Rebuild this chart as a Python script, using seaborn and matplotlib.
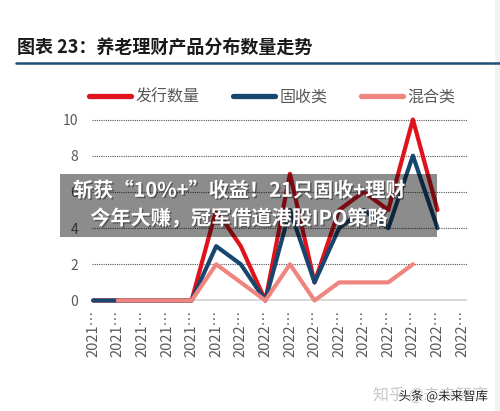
import numpy as np
import pandas as pd
import matplotlib
matplotlib.use("Agg")
import matplotlib.pyplot as plt
from matplotlib.patches import Rectangle
from matplotlib.lines import Line2D
import matplotlib.patheffects as pe
import seaborn as sns

# Data
periods = ["2021…"] * 6 + ["2022…"] * 10
issued = [0, 0, 0, 0, 0, 5, 3, 0, 7, 1, 5, 6, 5, 10, 5, np.nan]
fixed_income = [0, 0, 0, 0, 0, 3, 2, 0, 5, 1, 4, 5, 4, 8, 4, np.nan]
mixed = [np.nan, 0, 0, 0, 0, 2, 1, 0, 2, 0, 1, 1, 1, 2, np.nan, np.nan]
series_names = ["发行数量", "固收类", "混合类"]
colors = ["#e0121c", "#17476f", "#f0857f"]

sns.set_style("white")
plt.rcParams["font.family"] = ["Noto Sans CJK SC", "DejaVu Sans"]

df = pd.DataFrame({
    "pos": np.arange(len(periods)),
    series_names[0]: issued,
    series_names[1]: fixed_income,
    series_names[2]: mixed,
})
long_df = df.melt(id_vars="pos", var_name="series", value_name="count").dropna()

fig = plt.figure(figsize=(5.0, 4.11), dpi=100)
ax = fig.add_axes([0.184, 0.2601, 0.75, 0.4623])

sns.lineplot(data=long_df, x="pos", y="count", hue="series",
             hue_order=series_names, palette=colors, linewidth=3.0,
             ax=ax, legend=False, clip_on=False)

ax.set_xlim(-0.05, 15.2)
ax.set_ylim(-0.2, 10.3)
ax.set_yticks([0, 2, 4, 6, 8, 10])
ax.set_xticks(df["pos"])
ax.set_xticklabels(periods, rotation=90)
ax.set_xlabel("")
ax.set_ylabel("")
for s in ax.spines.values():
    s.set_visible(False)
for y in [2, 4, 6, 8, 10]:
    ax.axhline(y, color="#555555", linestyle=(0, (1, 1)), linewidth=0.8, zorder=0)
ax.axhline(0, color="#d0d0d0", linewidth=1.2, zorder=0)
ax.tick_params(axis="y", length=0, pad=10, labelsize=10, labelcolor="#595959")
ax.tick_params(axis="x", length=0, pad=4, labelsize=10.5, labelcolor="#595959")

# legend
handles = [Line2D([0], [0], color=c, linewidth=3.8) for c in colors]
fig.legend(handles, series_names, loc="center", bbox_to_anchor=(0.545, 0.764),
           ncol=3, frameon=False, fontsize=11.5, handlelength=2.6,
           handletextpad=0.3, columnspacing=2.1, labelcolor="#595959")

# title and rule
fig.text(0.034, 0.886, "图表 23：养老理财产品分布数量走势", fontsize=13,
         fontweight="heavy", color="#1a1a1a", va="center", ha="left")
fig.add_artist(Line2D([0.032, 1.0], [0.847, 0.847], color="#1f4e79", linewidth=1.8))

# overlay banner
fig.add_artist(Rectangle((0.12, 0.4233), 0.754, 0.153, transform=fig.transFigure,
                         facecolor="black", alpha=0.45, edgecolor="none", zorder=5))
shadow = [pe.withSimplePatchShadow(offset=(1, -1), shadow_rgbFace="#333333", alpha=0.6)]
fig.text(0.478, 0.537, "斩获“10%+”收益！21只固收+理财", fontsize=14.5,
         fontweight="bold", color="white", ha="center", va="center",
         zorder=6, path_effects=shadow)
fig.text(0.478, 0.469, "今年大赚，冠军借道港股IPO策略", fontsize=14.5,
         fontweight="bold", color="white", ha="center", va="center",
         zorder=6, path_effects=shadow)

# watermarks
fig.text(0.976, 0.039, "知乎 @未来智库", fontsize=11.5, color="#c8c8c8",
         ha="right", va="center")
fig.text(0.976, 0.036, "头条 @未来智库", fontsize=9, color="#222222",
         ha="right", va="center",
         path_effects=[pe.withStroke(linewidth=1.2, foreground="white")])

fig.add_artist(Rectangle((0.99, 0), 0.01, 1, transform=fig.transFigure,
                         facecolor="#f2f2f2", edgecolor="none"))

fig.savefig("out.png", dpi=100)
